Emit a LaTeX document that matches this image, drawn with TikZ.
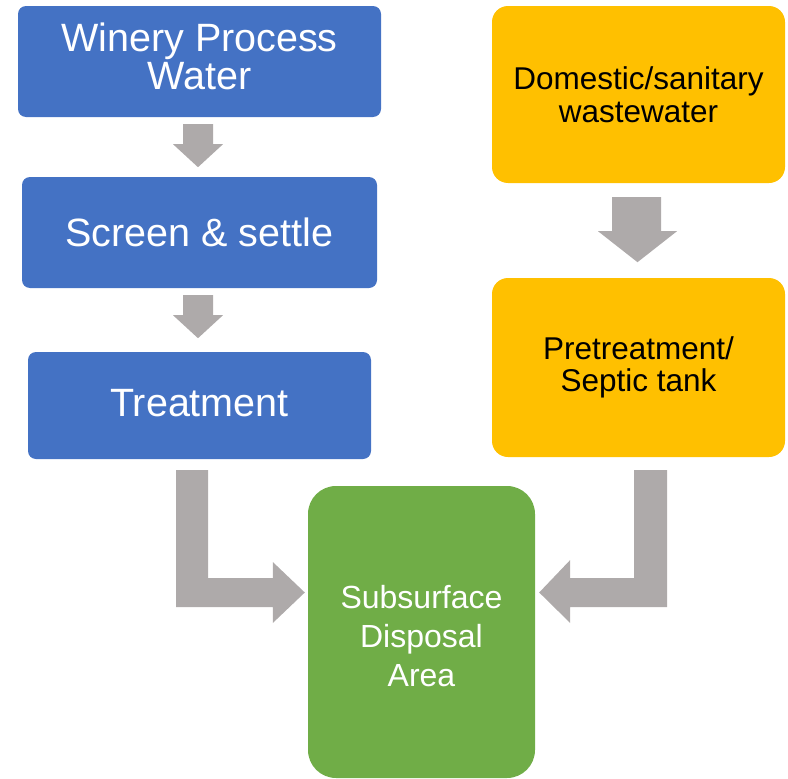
\documentclass[tikz,border=0pt]{standalone}
\usepackage{fontspec}
\setmainfont{Liberation Sans}
\usetikzlibrary{calc}
\definecolor{cblue}{HTML}{4472C4}
\definecolor{corange}{HTML}{FFC000}
\definecolor{cgreen}{HTML}{70AD47}
\definecolor{cgray}{HTML}{AEAAAA}
\begin{document}
\begin{tikzpicture}[x=1pt,y=-1pt,
  box/.style={rectangle, inner sep=0pt, align=center},
  bluenode/.style={box, fill=cblue, text=white, rounded corners=8pt,
    font=\fontsize{39.5}{38}\selectfont},
  orangenode/.style={box, fill=corange, text=black, rounded corners=16pt,
    minimum width=293pt, font=\fontsize{31.5}{32.5}\selectfont},
  greennode/.style={box, fill=cgreen, text=white, rounded corners=28pt,
    font=\fontsize{32}{39}\selectfont},
  blockarrow/.style={fill=cgray}
]
\useasboundingbox (0,0) rectangle (788,779);

\node[bluenode, minimum width=363pt, minimum height=111pt, text depth=10pt] (b1) at (199.5,61.5) {Winery Process\\Water};
\node[bluenode, minimum width=355pt, minimum height=111pt] (b2) at (199.5,232.5) {Screen \& settle};
\node[bluenode, minimum width=343pt, minimum height=107pt, text depth=6pt] (b3) at (199.5,405.5) {Treatment};

\node[orangenode, minimum height=177pt] (o1) at (638.5,94.5) {Domestic/sanitary\\wastewater};
\node[orangenode, minimum height=179pt] (o2) at (638.5,367.5) {Pretreatment/\\Septic tank};

\node[greennode, minimum width=227pt, minimum height=292pt, text height=109pt, text depth=0pt] (g) at (421.5,632) {Subsurface\\Disposal\\Area};

% small down arrows between blue boxes
\foreach \u in {b1,b2}
  \fill[blockarrow] ($(\u.south)+(-16.5,7)$) -- ++(30,0) -- ++(0,20) -- ++(10,0)
    -- ++(-25,23) -- ++(-25,-23) -- ++(10,0) -- cycle;

% down arrow between orange boxes
\fill[blockarrow] ($(o1.south)+(-26.5,14)$) -- ++(49,0) -- ++(0,34) -- ++(16,0)
  -- ++(-39.5,31) -- ++(-39.5,-31) -- ++(14,0) -- cycle;

% bent arrow from Treatment to disposal area
\coordinate (L1) at ($(b3.south)+(-23.5,11)$);
\coordinate (L2) at ($(b3.south)+(8.5,11)$);
\coordinate (Lt) at ($(g.west)+(-3,-39.5)$);
\coordinate (Lu) at ($(Lt)+(-32,-14.5)$);
\coordinate (Ld) at ($(Lt)+(-32,14.5)$);
\fill[blockarrow] (L1) -- (L2) -- (L2 |- Lu) -- (Lu) -- ++(0,-16) -- (Lt)
  -- ($(Ld)+(0,16)$) -- (Ld) -- (L1 |- Ld) -- cycle;

% bent arrow from septic tank to disposal area
\coordinate (R1) at ($(o2.south)+(-4.5,13)$);
\coordinate (R2) at ($(o2.south)+(28.5,13)$);
\coordinate (Rt) at ($(g.east)+(4,-39.5)$);
\coordinate (Ru) at ($(Rt)+(31,-14.5)$);
\coordinate (Rd) at ($(Rt)+(31,14.5)$);
\fill[blockarrow] (R2) -- (R1) -- (R1 |- Ru) -- (Ru) -- ++(0,-18) -- (Rt)
  -- ($(Rd)+(0,16)$) -- (Rd) -- (R2 |- Rd) -- cycle;
\end{tikzpicture}
\end{document}
